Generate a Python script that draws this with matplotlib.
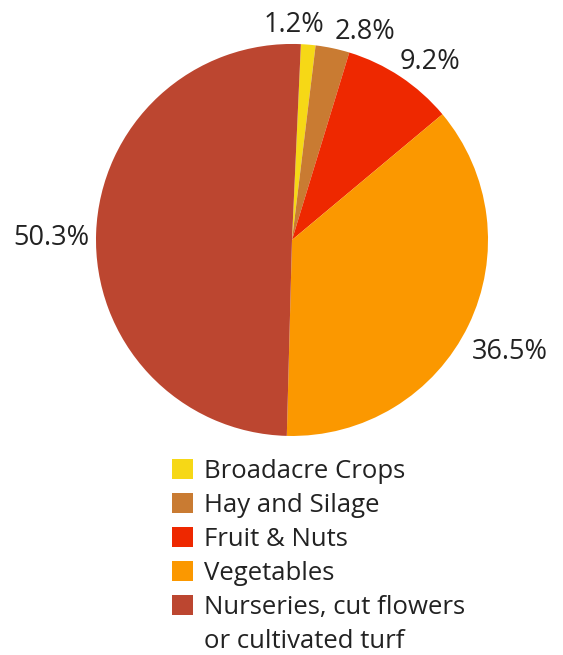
import numpy as np
import matplotlib.pyplot as plt
from matplotlib.patches import Patch

# Data
categories = ['Broadacre Crops', 'Hay and Silage', 'Fruit & Nuts', 'Vegetables',
              'Nurseries, cut flowers']
shares = [1.2, 2.8, 9.2, 36.5, 50.3]
colors = ['#F6D816', '#C97B32', '#EE2800', '#FB9800', '#BC4630']

# label placement around the pie (radius factor, angle nudge in degrees)
label_r = [1.095, 1.125, 1.15, 1.25, 1.23]
label_shift = [4.3, -7.4, -4.1, -1.3, 1.6]

plt.rcParams['font.family'] = ['Open Sans', 'DejaVu Sans']
text_color = '#222222'

fig = plt.figure(figsize=(5.63, 6.55), dpi=100)
ax = fig.add_axes([0.1705, 0.3344, 0.6963, 0.5985])

wedges, _ = ax.pie(shares, colors=colors, startangle=87.4, counterclock=False,
                   radius=1.0, wedgeprops=dict(linewidth=0))
ax.set_xlim(-1, 1)
ax.set_ylim(-1, 1)
ax.set_aspect('equal')
ax.axis('off')

for w, val, r, sh in zip(wedges, shares, label_r, label_shift):
    mid = np.deg2rad((w.theta1 + w.theta2) / 2 + sh)
    ax.text(r * np.cos(mid), r * np.sin(mid), f'{val}%', ha='center', va='center',
            fontsize=19.5, color=text_color, clip_on=False)

# Legend
handles = [Patch(facecolor=c, edgecolor='none') for c in colors]
handles.append(Patch(facecolor='none', edgecolor='none'))
labels = categories + ['or cultivated turf']
leg = fig.legend(handles, labels, loc='upper left', bbox_to_anchor=(0.3055, 0.300),
                 frameon=False, fontsize=18.5, handlelength=0.82, handleheight=0.82,
                 handletextpad=0.42, labelspacing=0.355, borderpad=0, borderaxespad=0)
for t in leg.get_texts():
    t.set_color(text_color)

fig.savefig('out.png', dpi=100)
